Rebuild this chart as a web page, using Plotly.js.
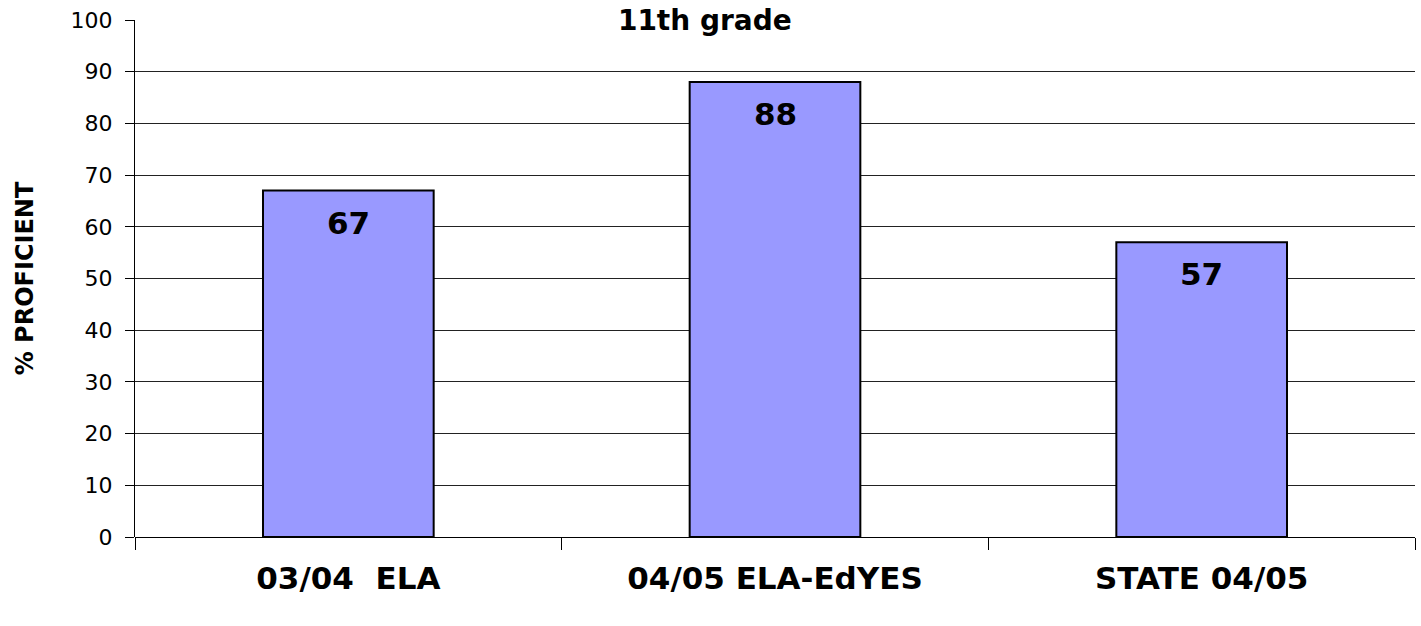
<!DOCTYPE html>
<html><head><meta charset="utf-8">
<script src="https://cdn.plot.ly/plotly-3.0.1.min.js"></script>
<style>html,body{margin:0;padding:0;background:#fff}#chart{width:1421px;height:626px}</style>
</head><body><div id="chart"></div>
<script>
const categories = ["03/04\u00a0\u00a0ELA", "04/05 ELA-EdYES", "STATE 04/05"];
const values = [67, 88, 57];
const FONT = "'Comic Sans MS', 'DejaVu Sans', sans-serif";

const trace = {
  type: "bar",
  x: categories,
  y: values,
  marker: {color: "#9999FF", line: {color: "#000000", width: 2}},
  hoverinfo: "none"
};

const annotations = categories.map((c, i) => ({
  x: c, y: values[i], xref: "x", yref: "y",
  text: "<b>" + values[i] + "</b>",
  showarrow: false, yanchor: "top", yshift: -12,
  font: {family: FONT, size: 31, color: "#000"}
}));

const layout = {
  width: 1421, height: 626,
  margin: {l: 135, r: 6, t: 20, b: 89},
  paper_bgcolor: "#fff", plot_bgcolor: "#fff",
  showlegend: false,
  bargap: 0.6,
  title: {text: "<b>11th grade</b>", x: 0.496, xref: "container", xanchor: "center",
          y: 0.968, yref: "container", yanchor: "middle",
          font: {family: FONT, size: 28, color: "#000"}},
  xaxis: {
    type: "category",
    tickson: "boundaries", ticks: "outside", ticklen: 12, tickcolor: "#000", tickwidth: 1,
    showline: false, showgrid: false,
    tickfont: {family: FONT, size: 31, color: "#000"},
    ticklabelstandoff: 20,
    tickprefix: "<b>", ticksuffix: "</b>"
  },
  yaxis: {
    range: [0, 100], dtick: 10, tick0: 0,
    ticks: "outside", ticklen: 9, tickcolor: "#000",
    showline: true, linecolor: "#000", linewidth: 1,
    showgrid: true, gridcolor: "#222", gridwidth: 1,
    zeroline: true, zerolinecolor: "#000", zerolinewidth: 1,
    tickfont: {family: "'DejaVu Sans', Verdana, sans-serif", size: 22, color: "#000"},
    ticklabelstandoff: 8,
    title: {text: "<b>% PROFICIENT</b>", standoff: 30, font: {family: FONT, size: 24, color: "#000"}}
  },
  annotations: annotations
};

Plotly.newPlot("chart", [trace], layout, {displayModeBar: false, staticPlot: true});
</script></body></html>
